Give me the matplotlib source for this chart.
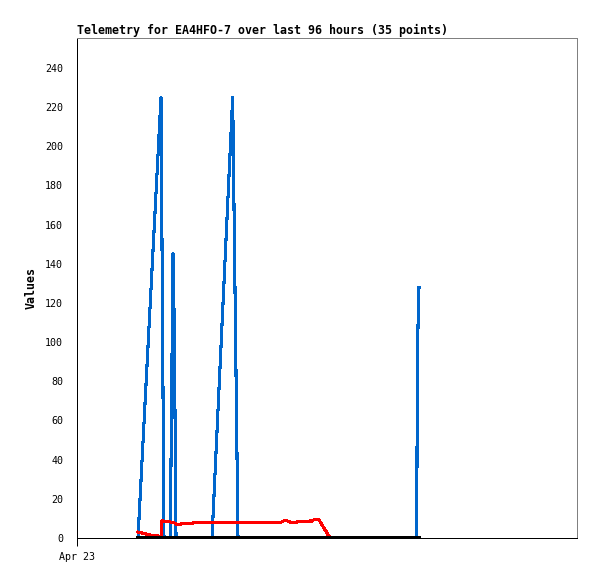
import matplotlib
matplotlib.use('Agg')
import matplotlib.pyplot as plt
import numpy as np

# time axis in hours since Apr 23 00:00, window of 96 hours
hours_total = 96
x_ticks = [0]
x_tick_labels = ['Apr 23']
y_ticks = list(range(0, 260, 20))

# blue channel
blue_t = [11.71, 16.13, 16.70, 17.91, 18.43, 18.68, 19.01, 25.92, 29.89, 30.91, 65.22, 65.36, 65.66]
blue_v = [0, 225, 0, 0, 145, 108, 0, 0, 225, 0, 0, 96, 128]

# red channel
red_t = [11.71, 13.06, 14.02, 15.55, 16.13, 16.32, 16.70, 17.86, 18.62, 19.10, 19.96, 20.16,
         22.27, 22.46, 39.17, 39.74, 40.32, 40.90, 42.05, 42.82, 45.12, 45.50, 46.47, 48.58]
red_v = [3.0, 2.2, 1.5, 1.0, 0.8, 9.0, 8.5, 8.2, 7.8, 7.0, 7.0, 7.5,
         7.6, 8.0, 8.0, 8.8, 8.8, 8.1, 8.1, 8.5, 8.7, 9.3, 9.3, 0]

# channels that stayed at zero
zero_t = [11.71, 65.66]
zero_v = [0, 0]

mono = 'DejaVu Sans Mono'

fig = plt.figure(figsize=(5.97, 5.79), dpi=100)
ax = fig.add_axes([77 / 597, 41 / 579, 500 / 597, 500 / 579])

ax.plot(blue_t, blue_v, color='#0066cc', lw=1.5, antialiased=False)
ax.plot(red_t, red_v, color='#ff0000', lw=1.5, antialiased=False)
ax.plot(zero_t, zero_v, color='black', lw=1.5, antialiased=False)

ax.set_xlim(0, hours_total)
ax.set_ylim(0, 255.3)

ax.set_xticks(x_ticks)
ax.set_xticklabels(x_tick_labels, family=mono, fontsize=7.2)
ax.set_yticks(y_ticks)
ax.set_yticklabels([str(v) for v in y_ticks], family=mono, fontsize=7.2)
ax.set_yticks([0], minor=True)
ax.tick_params(axis='y', which='major', length=0, pad=10)
ax.tick_params(axis='y', which='minor', length=5, width=0.72, color='black')
ax.tick_params(axis='x', which='major', length=6, width=0.72, color='black', pad=4)

for side in ['top', 'right']:
    ax.spines[side].set_color('#808080')
for side in ['left', 'bottom']:
    ax.spines[side].set_color('black')
for s in ax.spines.values():
    s.set_linewidth(0.72)
    s.set_antialiased(False)

ax.set_title('Telemetry for EA4HFO-7 over last 96 hours (35 points)', loc='left',
             family=mono, fontsize=8.4, fontweight='bold', pad=3)
ax.set_ylabel('Values', family=mono, fontsize=8.4, fontweight='bold')
ax.yaxis.set_label_coords(-0.078, 0.5)

fig.savefig('out.png', dpi=100)
